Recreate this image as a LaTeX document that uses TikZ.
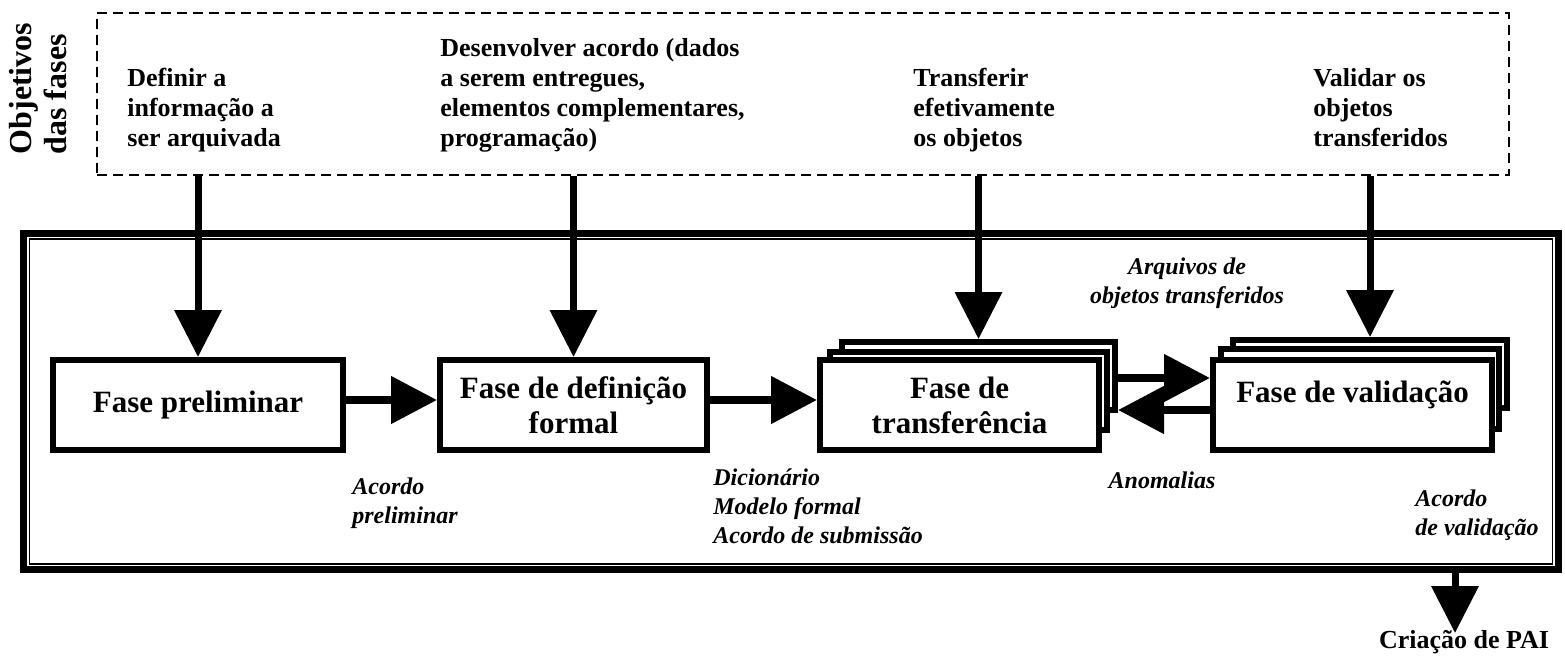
\documentclass[tikz,border=0pt]{standalone}
\usepackage{fontspec}
\setmainfont{Liberation Serif}
\usetikzlibrary{arrows.meta}
\begin{document}
\begin{tikzpicture}[x=0.5pt,y=-0.5pt,
  boxfont/.style={font=\fontsize{15.5}{17.5}\selectfont\bfseries},
  box/.style={draw,line width=3pt,fill=white,inner sep=0pt,align=center,boxfont},
  stackbox/.style={draw,line width=3pt,fill=white,inner sep=0pt},
  goal/.style={anchor=base west,inner sep=0pt,align=left,font=\fontsize{13}{15}\selectfont\bfseries},
  note/.style={inner sep=0pt,font=\fontsize{12}{14.5}\selectfont\bfseries\itshape},
  flow/.style={line width=4pt,-{Triangle[length=23pt,width=23pt]}},
  down/.style={line width=3.5pt,-{Triangle[length=23.5pt,width=23pt]}},
]
\useasboundingbox (0,0) rectangle (1565,666);

% objectives (dashed) box
\node[draw,dash pattern=on 5pt off 3pt,line width=1pt,minimum width=706pt,minimum height=81pt,inner sep=0pt] (obj) at (803,94) {};
\node[rotate=90,align=left,inner sep=0pt,font=\fontsize{16}{17.5}\selectfont\bfseries] (title) at (38,88.5) {Objetivos\\das fases};
\node[goal] (g1) at (127,146) {Definir a\\informação a\\ser arquivada};
\node[goal] (g2) at (440,146) {Desenvolver acordo (dados\\a serem entregues,\\elementos complementares,\\programação)};
\node[goal] (g3) at (913,146) {Transferir\\efetivamente\\os objetos};
\node[goal] (g4) at (1313,146) {Validar os\\objetos\\transferidos};

% process frame
\node[draw,line width=3.5pt,minimum width=767.5pt,minimum height=168pt,inner sep=0pt] (frame) at (791,401.5) {};
\node[draw,line width=0.75pt,minimum width=761.5pt,minimum height=162.5pt,inner sep=0pt] (inner) at (791,401.5) {};

% phases
\node[box,minimum width=145pt,minimum height=45pt] (pre) at (198,405) {Fase preliminar};
\node[box,minimum width=133.5pt,minimum height=45pt] (def) at (573.5,405) {Fase de definição\\formal};
\node[stackbox,minimum width=136.5pt,minimum height=34pt] (trf3) at (978.5,376) {};
\node[stackbox,minimum width=138.5pt,minimum height=39pt] (trf2) at (968.5,391) {};
\node[box,minimum width=139.5pt,minimum height=45pt] (trf) at (959.5,405) {Fase de\\transferência};
\node[stackbox,minimum width=137pt,minimum height=34pt] (val3) at (1370,374) {};
\node[stackbox,minimum width=139pt,minimum height=40pt] (val2) at (1360,389) {};
\node[stackbox,minimum width=139.5pt,minimum height=45pt] (val) at (1352.5,405) {};
\node[anchor=base,inner sep=0pt,boxfont] (valtxt) at (1352.5,402) {Fase de validação};

% arrows from objectives
\draw[down] (pre.north |- obj.south) -- (pre.north);
\draw[down] (def.north |- obj.south) -- (def.north);
\draw[down] (trf3.north |- obj.south) -- (trf3.north);
\draw[down] (val3.north |- obj.south) -- (val3.north);

% flow arrows
\draw[flow] ([yshift=2.5pt]pre.east) -- ([yshift=2.5pt]def.west);
\draw[flow] ([yshift=2.5pt]def.east) -- ([yshift=2.5pt]trf.west);
\coordinate (yup) at (0,378);
\coordinate (ydn) at (0,410);
\draw[flow] (trf3.east |- yup) -- (val.west |- yup);
\draw[flow] (val.west |- ydn) -- (trf3.east |- ydn);

% output
\coordinate (outtop) at (1455,573);
\coordinate (outtip) at (1455,633);
\draw[down] (outtop) -- (outtip);
\node[anchor=base,inner sep=0pt,font=\fontsize{13}{15}\selectfont\bfseries] (pai) at (1464,648) {Criação de PAI};

% notes
\node[note,anchor=base,align=center] (n1) at (1187,303) {Arquivos de\\objetos transferidos};
\node[note,anchor=base] (n2) at (1162,488) {Anomalias};
\node[note,anchor=base west,align=left] (n3) at (352,523) {Acordo\\preliminar};
\node[note,anchor=base west,align=left] (n4) at (713,543) {Dicionário\\Modelo formal\\Acordo de submissão};
\node[note,anchor=base west,align=left] (n5) at (1415,535) {Acordo\\de validação};
\end{tikzpicture}
\end{document}
